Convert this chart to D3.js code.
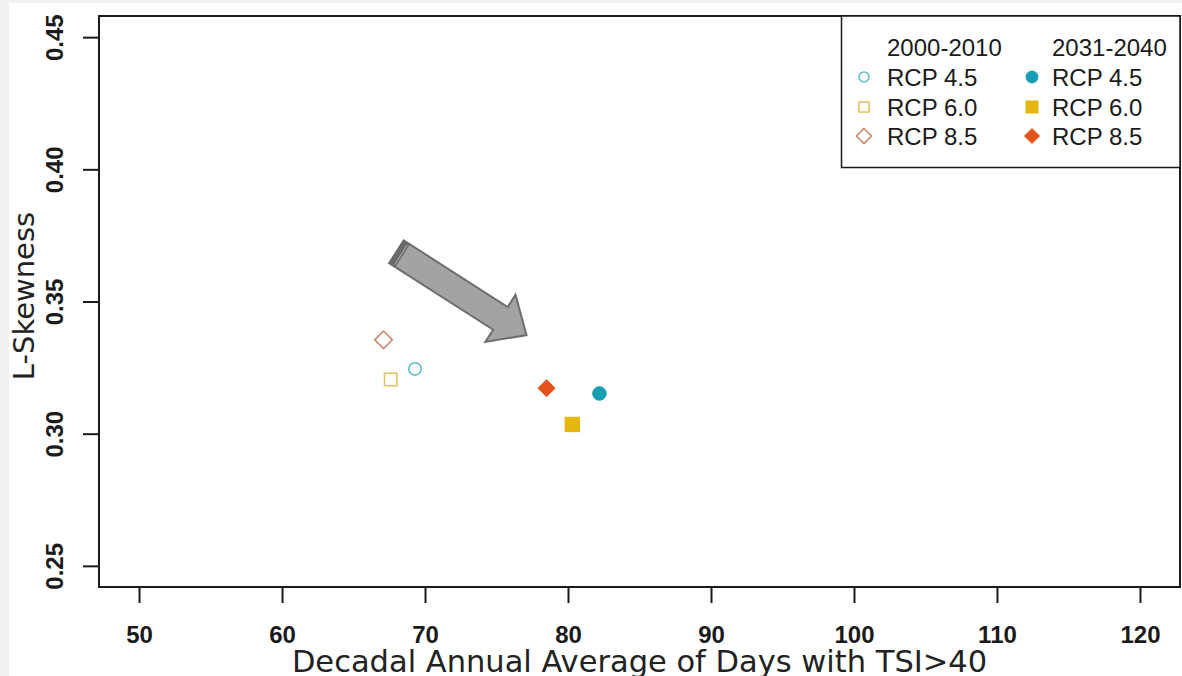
<!DOCTYPE html>
<html>
<head>
<meta charset="utf-8">
<script src="https://cdn.jsdelivr.net/npm/d3@7"></script>
<style>
  html, body { margin: 0; padding: 0; background: #f0f0f0; }
  svg { display: block; }
</style>
</head>
<body>
<svg id="chart" width="1182" height="676"></svg>
<script>
// Scenario groups and periods
const scenarios = ["RCP 4.5", "RCP 6.0", "RCP 8.5"];
const periods = ["2000-2010", "2031-2040"];

// Days with TSI>40 (decadal annual average) per scenario, for each period
const days2000 = [69.3, 67.6, 67.1];
const days2031 = [82.2, 80.3, 78.5];

// L-Skewness per scenario, for each period
const lskew2000 = [0.3245, 0.3205, 0.3355];
const lskew2031 = [0.3152, 0.3035, 0.3172];

// Axis ticks
const xTicks = [50, 60, 70, 80, 90, 100, 110, 120];
const yTicks = [0.25, 0.30, 0.35, 0.40, 0.45];

// Arrow annotation, tail -> head, in data units
const arrowFrom = [68.0, 0.3688];
const arrowTo = [77.1, 0.3373];

const shapes = ["circle", "square", "diamond"];
const openColors = ["#5cbccd", "#e2c568", "#c88a72"];
const fillColors = ["#169fb2", "#e3b70d", "#e6521b"];

const svg = d3.select("#chart");
const titleFont = "'DejaVu Sans', sans-serif";
const tickFont = "'Liberation Sans', Arial, sans-serif";

// white panel
svg.append("rect").attr("x", 9).attr("y", 3).attr("width", 1173).attr("height", 673).attr("fill", "#ffffff");

const pLeft = 99, pRight = 1180, pTop = 16, pBottom = 587;
// R-style 4% axis padding
const x = d3.scaleLinear().domain([50 - 70 * 0.04, 120 + 70 * 0.04]).range([pLeft, pRight]);
const y = d3.scaleLinear().domain([0.25 - 0.2 * 0.04, 0.45 + 0.2 * 0.04]).range([pBottom, pTop]);

// plot frame
svg.append("rect").attr("x", pLeft).attr("y", pTop).attr("width", pRight - pLeft).attr("height", pBottom - pTop)
  .attr("fill", "none").attr("stroke", "#1a1a1a").attr("stroke-width", 2);

// x axis
const xAxis = svg.append("g").attr("transform", `translate(0,${pBottom})`)
  .call(d3.axisBottom(x).tickValues(xTicks).tickSize(16).tickFormat(d3.format("d")));
xAxis.select(".domain").remove();
xAxis.selectAll("line").attr("stroke", "#1a1a1a").attr("stroke-width", 2);
xAxis.selectAll("text").attr("font-family", tickFont).attr("font-size", 24).attr("font-weight", "bold")
  .attr("fill", "#1a1a1a").attr("y", 56).attr("dy", null);

// y axis
const yAxis = svg.append("g").attr("transform", `translate(${pLeft},0)`)
  .call(d3.axisLeft(y).tickValues(yTicks).tickSize(16).tickFormat(d3.format(".2f")));
yAxis.select(".domain").remove();
yAxis.selectAll("line").attr("stroke", "#1a1a1a").attr("stroke-width", 2);
yAxis.selectAll("text")
  .attr("font-family", tickFont).attr("font-size", 24).attr("font-weight", "bold").attr("fill", "#1a1a1a")
  .attr("x", 0).attr("y", 0).attr("dy", null)
  .attr("text-anchor", "middle")
  .attr("transform", "translate(-36,0) rotate(-90)");

// axis titles
svg.append("text").attr("x", (x(50) + x(120)) / 2).attr("y", 672)
  .attr("text-anchor", "middle").attr("font-family", titleFont).attr("font-size", 30.5).attr("fill", "#222")
  .text("Decadal Annual Average of Days with TSI>40");
svg.append("text").attr("transform", `translate(34,296) rotate(-90)`)
  .attr("text-anchor", "middle").attr("font-family", titleFont).attr("font-size", 29).attr("fill", "#222")
  .text("L-Skewness");

// marker drawing; sz = [circle r, square half side, diamond half diagonal]
function marker(g, shape, cx, cy, open, color, sz) {
  const sw = open ? 1.6 : 1;
  if (shape === "circle") {
    g.append("circle").attr("cx", cx).attr("cy", cy).attr("r", sz[0])
      .attr("fill", open ? "none" : color).attr("stroke", color).attr("stroke-width", sw);
  } else if (shape === "square") {
    const h = sz[1];
    g.append("rect").attr("x", cx - h).attr("y", cy - h).attr("width", 2 * h).attr("height", 2 * h)
      .attr("fill", open ? "none" : color).attr("stroke", color).attr("stroke-width", sw);
  } else {
    const h = sz[2];
    g.append("path").attr("d", `M${cx},${cy - h}L${cx + h},${cy}L${cx},${cy + h}L${cx - h},${cy}Z`)
      .attr("fill", open ? "none" : color).attr("stroke", color).attr("stroke-width", sw);
  }
}

// arrow annotation
(function drawArrow() {
  const x0 = x(arrowFrom[0]), y0 = y(arrowFrom[1]);
  const x1 = x(arrowTo[0]), y1 = y(arrowTo[1]);
  const dx = x1 - x0, dy = y1 - y0, len = Math.hypot(dx, dy);
  const ux = dx / len, uy = dy / len, nx = -uy, ny = ux;
  const sw = 13.5, hw = 28, hl = 31;
  const bx = x1 - ux * hl, by = y1 - uy * hl;
  const P = (px, py) => `${px.toFixed(1)},${py.toFixed(1)}`;
  const pts = [
    P(x0 + nx * sw, y0 + ny * sw), P(bx + nx * sw, by + ny * sw), P(bx + nx * hw, by + ny * hw),
    P(x1, y1),
    P(bx - nx * hw, by - ny * hw), P(bx - nx * sw, by - ny * sw), P(x0 - nx * sw, y0 - ny * sw)
  ];
  svg.append("polygon").attr("points", pts.join(" "))
    .attr("fill", "#a3a3a3").attr("stroke", "#6e6e6e").attr("stroke-width", 2).attr("stroke-linejoin", "miter");
  // darker tail end band with a light edge line
  const t = 7;
  const band = [
    P(x0 + nx * sw, y0 + ny * sw), P(x0 + nx * sw + ux * t, y0 + ny * sw + uy * t),
    P(x0 - nx * sw + ux * t, y0 - ny * sw + uy * t), P(x0 - nx * sw, y0 - ny * sw)
  ];
  svg.append("polygon").attr("points", band.join(" ")).attr("fill", "#6a6a6a").attr("stroke", "#6a6a6a").attr("stroke-width", 1);
  svg.append("line")
    .attr("x1", x0 + nx * (sw - 2) + ux * (t - 1.5)).attr("y1", y0 + ny * (sw - 2) + uy * (t - 1.5))
    .attr("x2", x0 - nx * (sw - 2) + ux * (t - 1.5)).attr("y2", y0 - ny * (sw - 2) + uy * (t - 1.5))
    .attr("stroke", "#b8b8b8").attr("stroke-width", 1);
})();

// data points
const pts = svg.append("g");
scenarios.forEach((s, i) => {
  marker(pts, shapes[i], x(days2000[i]), y(lskew2000[i]), true, openColors[i], [6.2, 6.2, 8.8]);
  marker(pts, shapes[i], x(days2031[i]), y(lskew2031[i]), false, fillColors[i], [6.8, 7.2, 8.5]);
});

// legend
const lg = svg.append("g");
lg.append("rect").attr("x", 841.5).attr("y", pTop).attr("width", pRight - 841.5).attr("height", 151.5)
  .attr("fill", "#ffffff").attr("stroke", "#1a1a1a").attr("stroke-width", 1.5);
const colSym = [864, 1032], colTxt = [887, 1052];
const rowBase = [55.5, 85.5, 115.5, 144.5];
periods.forEach((p, j) => {
  lg.append("text").attr("x", colTxt[j]).attr("y", rowBase[0])
    .attr("font-family", tickFont).attr("font-size", 24).attr("fill", "#1a1a1a").text(p);
  scenarios.forEach((s, i) => {
    marker(lg, shapes[i], colSym[j], rowBase[i + 1] - 8.5, j === 0, j === 0 ? openColors[i] : fillColors[i],
      j === 0 ? [5, 5, 7.5] : [6, 6, 7.5]);
    lg.append("text").attr("x", colTxt[j]).attr("y", rowBase[i + 1])
      .attr("font-family", tickFont).attr("font-size", 24).attr("fill", "#1a1a1a").text(s);
  });
});
</script>
</body>
</html>
